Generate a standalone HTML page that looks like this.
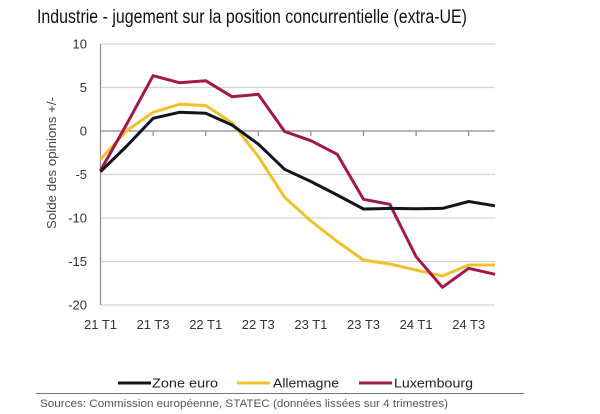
<!DOCTYPE html>
<html><head><meta charset="utf-8"><style>
html,body{margin:0;padding:0;background:#fff;}
svg{display:block;}
</style></head><body>
<svg width="600" height="414" viewBox="0 0 600 414" xmlns="http://www.w3.org/2000/svg" font-family="Liberation Sans, sans-serif">
<text x="37" y="23" font-size="19" fill="#111" textLength="430" lengthAdjust="spacingAndGlyphs">Industrie - jugement sur la position concurrentielle (extra-UE)</text>
<g stroke="#d4d4d4" stroke-width="1.2">
<line x1="100.5" y1="44" x2="495" y2="44"/>
<line x1="100.5" y1="87.5" x2="495" y2="87.5"/>
<line x1="100.5" y1="174.5" x2="495" y2="174.5"/>
<line x1="100.5" y1="218" x2="495" y2="218"/>
<line x1="100.5" y1="261.5" x2="495" y2="261.5"/>
<line x1="100.5" y1="305" x2="495" y2="305"/>
</g>
<g stroke="#8a8a8a" stroke-width="1.2">
<line x1="100.5" y1="44" x2="100.5" y2="305"/>
<line x1="100.5" y1="131" x2="495" y2="131"/>
<line x1="153.1" y1="131" x2="153.1" y2="136"/>
<line x1="205.7" y1="131" x2="205.7" y2="136"/>
<line x1="258.3" y1="131" x2="258.3" y2="136"/>
<line x1="310.9" y1="131" x2="310.9" y2="136"/>
<line x1="363.5" y1="131" x2="363.5" y2="136"/>
<line x1="416.1" y1="131" x2="416.1" y2="136"/>
<line x1="468.7" y1="131" x2="468.7" y2="136"/>
</g>
<g font-size="13" fill="#333" text-anchor="end">
<text x="87" y="48.5">10</text>
<text x="87" y="92">5</text>
<text x="87" y="135.5">0</text>
<text x="87" y="179">-5</text>
<text x="87" y="222.5">-10</text>
<text x="87" y="266">-15</text>
<text x="87" y="309.5">-20</text>
</g>
<g font-size="13" fill="#333" text-anchor="middle">
<text x="100.5" y="329">21 T1</text>
<text x="153.1" y="329">21 T3</text>
<text x="205.7" y="329">22 T1</text>
<text x="258.3" y="329">22 T3</text>
<text x="310.9" y="329">23 T1</text>
<text x="363.5" y="329">23 T3</text>
<text x="416.1" y="329">24 T1</text>
<text x="468.7" y="329">24 T3</text>
</g>
<text transform="translate(56,163) rotate(-90)" font-size="13" fill="#444" text-anchor="middle" textLength="132" lengthAdjust="spacingAndGlyphs">Solde des opinions +/-</text>
<g fill="none" stroke-width="3" stroke-linejoin="round">
<polyline stroke="#f3bf2a" points="100.5,159.3 126.8,130.5 153.1,112.3 179.4,104.3 205.7,105.5 232,122.7 258.3,156.5 284.6,197.3 310.9,221 337.2,241.5 363.5,260 389.8,264 416.1,270 442.4,276 468.7,265 495,265"/>
<polyline stroke="#a3174a" points="100.5,170.5 126.8,124 153.1,75.7 179.4,82.7 205.7,80.7 232,96.7 258.3,94.3 284.6,131.5 310.9,140.7 337.2,154.3 363.5,199.3 389.8,204.3 416.1,256.7 442.4,287.3 468.7,268.3 495,274.3"/>
<polyline stroke="#111522" points="100.5,171.7 126.8,146 153.1,118.3 179.4,112.3 205.7,113.3 232,125 258.3,144.1 284.6,169.3 310.9,181.5 337.2,195 363.5,209 389.8,208.4 416.1,208.7 442.4,208.4 468.7,201.5 495,205.8"/>
</g>
<g stroke-width="3">
<line x1="118" y1="383" x2="151" y2="383" stroke="#111522"/>
<line x1="237" y1="383" x2="270" y2="383" stroke="#f3bf2a"/>
<line x1="359" y1="383" x2="392" y2="383" stroke="#a3174a"/>
</g>
<g font-size="13" fill="#222">
<text x="152" y="387.5" textLength="66" lengthAdjust="spacingAndGlyphs">Zone euro</text>
<text x="273" y="387.5" textLength="66" lengthAdjust="spacingAndGlyphs">Allemagne</text>
<text x="394" y="387.5" textLength="79" lengthAdjust="spacingAndGlyphs">Luxembourg</text>
</g>
<line x1="36" y1="393.5" x2="524" y2="393.5" stroke="#777" stroke-width="1"/>
<text x="40" y="407" font-size="11" fill="#555" textLength="408" lengthAdjust="spacingAndGlyphs">Sources: Commission européenne, STATEC (données lissées sur 4 trimestres)</text>
</svg>
</body></html>
